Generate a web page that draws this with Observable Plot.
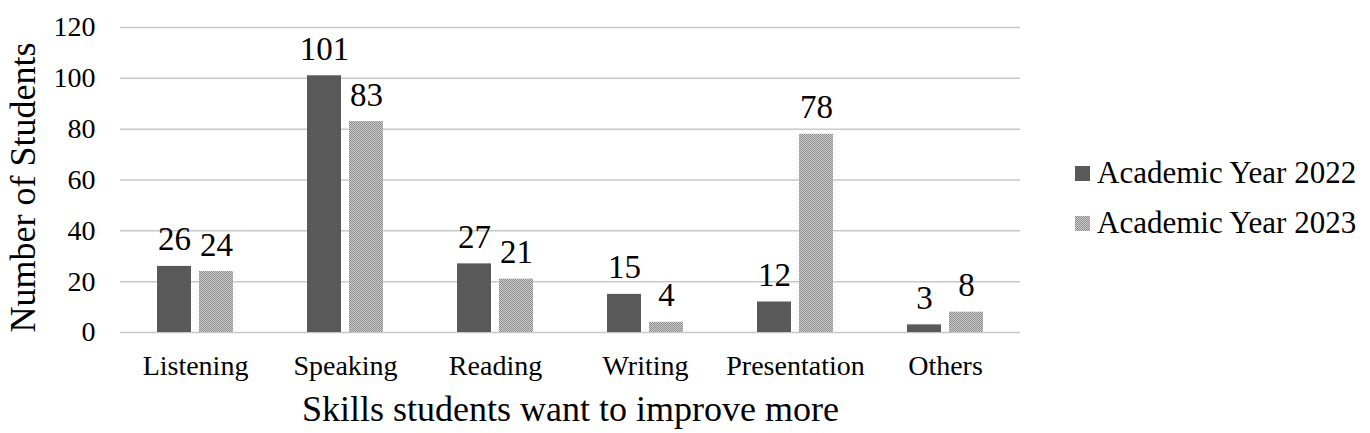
<!DOCTYPE html>
<html>
<head>
<meta charset="utf-8">
<script src="https://cdn.jsdelivr.net/npm/d3@7"></script>
<script src="https://cdn.jsdelivr.net/npm/@observablehq/plot@0.6"></script>
<style>
  html, body { margin: 0; padding: 0; background: #fff; }
  #wrap { position: relative; width: 1370px; height: 433px; font-family: "Liberation Serif", "Times New Roman", serif; }
  #legend { position: absolute; left: 1075px; top: 148px; font-size: 31px; color: #000; }
  .row { display: flex; align-items: center; height: 50px; }
  .sw { width: 15px; height: 15px; margin-right: 7px; display: block; }
</style>
</head>
<body>
<div id="wrap"></div>
<script>
const skills = ["Listening", "Speaking", "Reading", "Writing", "Presentation", "Others"];
const series = ["Academic Year 2022", "Academic Year 2023"];
const values2022 = [26, 101, 27, 15, 12, 3];
const values2023 = [24, 83, 21, 4, 78, 8];
const yTicks = [0, 20, 40, 60, 80, 100, 120];
const xTitle = "Skills students want to improve more";
const yTitle = "Number of Students";

const d2022 = skills.map((s, i) => ({skill: s, value: values2022[i]}));
const d2023 = skills.map((s, i) => ({skill: s, value: values2023[i]}));

const font = "Liberation Serif";

const chart = Plot.plot({
  width: 1370,
  height: 433,
  marginLeft: 120,
  marginRight: 350,
  marginTop: 27,
  marginBottom: 101,
  style: {fontFamily: font, background: "#fff", color: "#000"},
  x: {type: "band", domain: skills, padding: 0},
  y: {domain: [0, 120]},
  marks: [
    Plot.gridY(yTicks, {stroke: "#c8c8c8", strokeOpacity: 1, strokeWidth: 1.5}),
    Plot.barY(d2022, {x: "skill", y: "value", fill: "#595959", insetLeft: 37, insetRight: 79}),
    Plot.barY(d2023, {x: "skill", y: "value", fill: "url(#dots2023)", insetLeft: 79, insetRight: 37}),
    Plot.text(d2022, {x: "skill", y: "value", text: d => String(d.value), dx: -21, dy: -16, lineAnchor: "bottom", fontSize: 33, fill: "#000"}),
    Plot.text(d2023, {x: "skill", y: "value", text: d => String(d.value), dx: 21, dy: -16, lineAnchor: "bottom", fontSize: 33, fill: "#000"}),
    Plot.axisY({ticks: yTicks, tickSize: 0, tickPadding: 25, fontSize: 28, label: null}),
    Plot.axisX({tickSize: 0, tickPadding: 23, fontSize: 28, label: null}),
    Plot.text([xTitle], {text: d => d, frameAnchor: "bottom", dy: 76.5, lineAnchor: "middle", textAnchor: "middle", fontSize: 36, fill: "#000"}),
    Plot.text([yTitle], {text: d => d, frameAnchor: "left", dx: -97, dy: 7.5, rotate: -90, lineAnchor: "middle", textAnchor: "middle", fontSize: 36, fill: "#000"})
  ]
});

d3.select(chart).insert("defs", ":first-child").html(
  '<pattern id="dots2023" patternUnits="userSpaceOnUse" width="2" height="2">' +
  '<rect width="2" height="2" fill="#cccccc"/>' +
  '<rect x="0" y="0" width="1" height="1" fill="#8e8e8e"/>' +
  '<rect x="1" y="1" width="1" height="1" fill="#8e8e8e"/>' +
  '</pattern>'
);

const wrap = document.getElementById("wrap");
wrap.appendChild(chart);

const legend = document.createElement("div");
legend.id = "legend";
const swatches = [
  '<svg class="sw" width="15" height="15"><rect width="15" height="15" fill="#595959"/></svg>',
  '<svg class="sw" width="15" height="15"><defs><pattern id="dotsLeg" patternUnits="userSpaceOnUse" width="2" height="2"><rect width="2" height="2" fill="#cccccc"/><rect width="1" height="1" fill="#8e8e8e"/><rect x="1" y="1" width="1" height="1" fill="#8e8e8e"/></pattern></defs><rect width="15" height="15" fill="url(#dotsLeg)"/></svg>'
];
series.forEach((s, i) => {
  const row = document.createElement("div");
  row.className = "row";
  row.innerHTML = swatches[i] + "<span>" + s + "</span>";
  legend.appendChild(row);
});
wrap.appendChild(legend);
</script>
</body>
</html>
